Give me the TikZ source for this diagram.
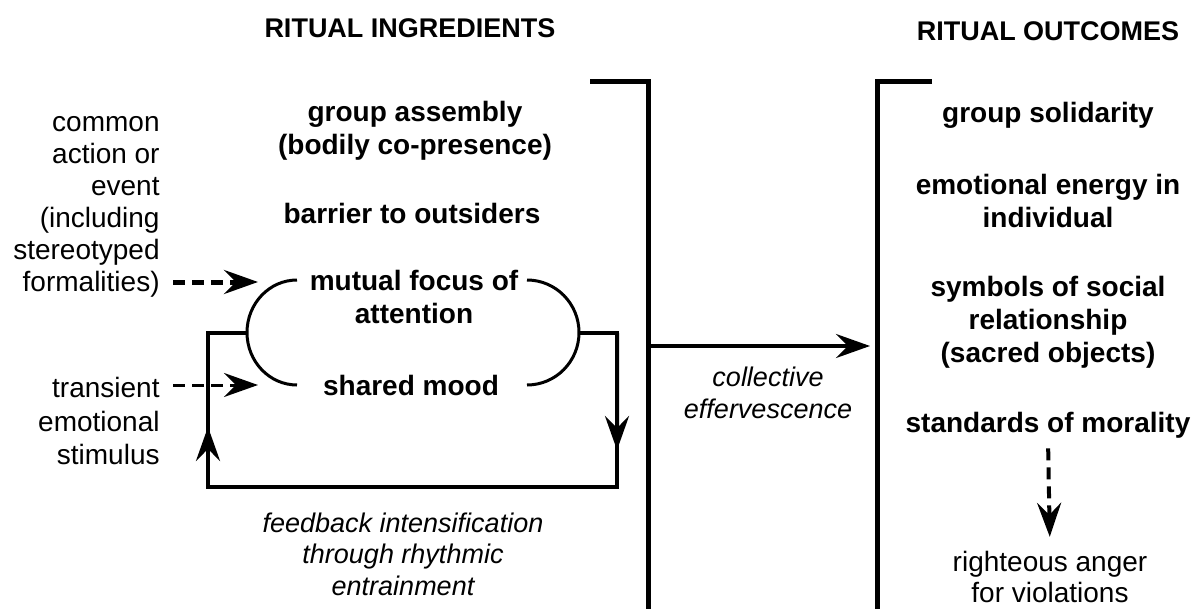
\documentclass[tikz,border=0pt]{standalone}
\usepackage{fontspec}
\setmainfont{Liberation Sans}
\usetikzlibrary{arrows.meta,calc}
\tikzset{
	heading/.style={font=\bfseries\fontsize{13.5}{16}\selectfont, inner sep=0pt},
	item/.style={font=\bfseries\fontsize{14}{16.5}\selectfont, align=center, inner sep=0pt},
	side/.style={font=\fontsize{14}{16}\selectfont, align=right, inner sep=0pt, anchor=east},
	note/.style={font=\itshape\fontsize{13.5}{15.8}\selectfont, align=center, inner sep=0pt},
	bracket/.style={line width=2.5pt},
	loopline/.style={line width=2pt},
	arcline/.style={line width=1.5pt},
	arr/.style={-{Stealth[length=17pt,width=12pt,inset=6pt]}},
	darr/.style={arr, dash pattern=on 6pt off 3.5pt},
}

\begin{document}
\begin{tikzpicture}[x=0.5pt,y=-0.5pt]
		\useasboundingbox (0,0) rectangle (1198,609);
		
		%%%%% headings %%%%%
		\node[heading] (ingr) at (410,28) {RITUAL INGREDIENTS};
		\node[heading] (outc) at (1048,31) {RITUAL OUTCOMES};
		
		%%%%% ingredients %%%%%
		\node[item] (assembly) at (415,131) {group assembly\\(bodily co-presence)};
		\node[item] (barrier) at (412,213) {barrier to outsiders};
		\node[item] (focus) at (414,297) {mutual focus of\\attention};
		\node[item] (mood) at (411,385) {shared mood};
		
		\node[side] (action) at (160,207) {common\\action or\\event\\(including\\stereotyped\\formalities)};
		\node[side, font=\fontsize{14}{16.8}\selectfont] (stimulus) at (160,421) {transient\\emotional\\stimulus};
		
		\node[note] (feedback) at (403,554) {feedback intensification\\through rhythmic\\entrainment};
		
		%%%%% outcomes %%%%%
		\node[item] (solidarity) at (1048,115) {group solidarity};
		\node[item] (energy) at (1048,201) {emotional energy in\\individual};
		\node[item] (symbols) at (1048,322) {symbols of social\\relationship\\(sacred objects)};
		\node[item] (morality) at (1048,425) {standards of morality};
		\node[side, anchor=center, align=center, font=\fontsize{14}{15.5}\selectfont] (anger) at (1050,577) {righteous anger\\for violations};
		
		\node[note] (effer) at (768,393) {collective\\effervescence};
		
		%%%%% brackets %%%%%
		\coordinate (ingr top) at (590,82);
		\coordinate (ingr corner) at (648,82);
		\coordinate (ingr bottom) at (648,609);
		\coordinate (outc top) at (932,82);
		\coordinate (outc corner) at (877,82);
		\coordinate (outc bottom) at (877,609);
		\draw[bracket] (ingr top) -- (ingr corner) -- (ingr bottom);
		\draw[bracket] (outc top) -- (outc corner) -- (outc bottom);
		
		\coordinate (eff start) at (648,346);
		\coordinate (eff end) at (870,346);
		\draw[loopline, arr] (eff start) -- (eff end);
		
		%%%%% feedback loop %%%%%
		\draw[arcline] (297,280) arc[start angle=-90, end angle=-270, x radius=50, y radius=52.5];
		\draw[arcline] (527,280) arc[start angle=-90, end angle=90, x radius=52, y radius=52.5];
		
		\coordinate (arc w) at (247,333);
		\coordinate (arc e) at (579,333);
		\coordinate (lp nw) at (208,333);
		\coordinate (lp sw) at (208,487);
		\coordinate (lp se) at (617,487);
		\coordinate (lp ne) at (617,333);
		\draw[loopline] (arc e) -- (lp ne) -- (lp se) -- (lp sw) -- (lp nw) -- (arc w);
		\draw[loopline, arr] (lp ne) -- ($(lp ne)!0.76!(lp se)$);
		\draw[loopline, arr] (lp sw) -- ($(lp sw)!0.39!(lp nw)$);
		
		%%%%% dashed inputs %%%%%
		\coordinate (act out) at (173,282);
		\coordinate (act in) at (258,282);
		\coordinate (stim out) at (173,385);
		\coordinate (stim in) at (258,385);
		\draw[darr, line width=2.5pt] (act out) -- (act in);
		\draw[darr, line width=1.5pt] (stim out) -- (stim in);
		
		\draw[darr, line width=2pt, shorten <=5pt, shorten >=7pt] (morality.south) -- (anger.north);
		
\end{tikzpicture}
\end{document}
